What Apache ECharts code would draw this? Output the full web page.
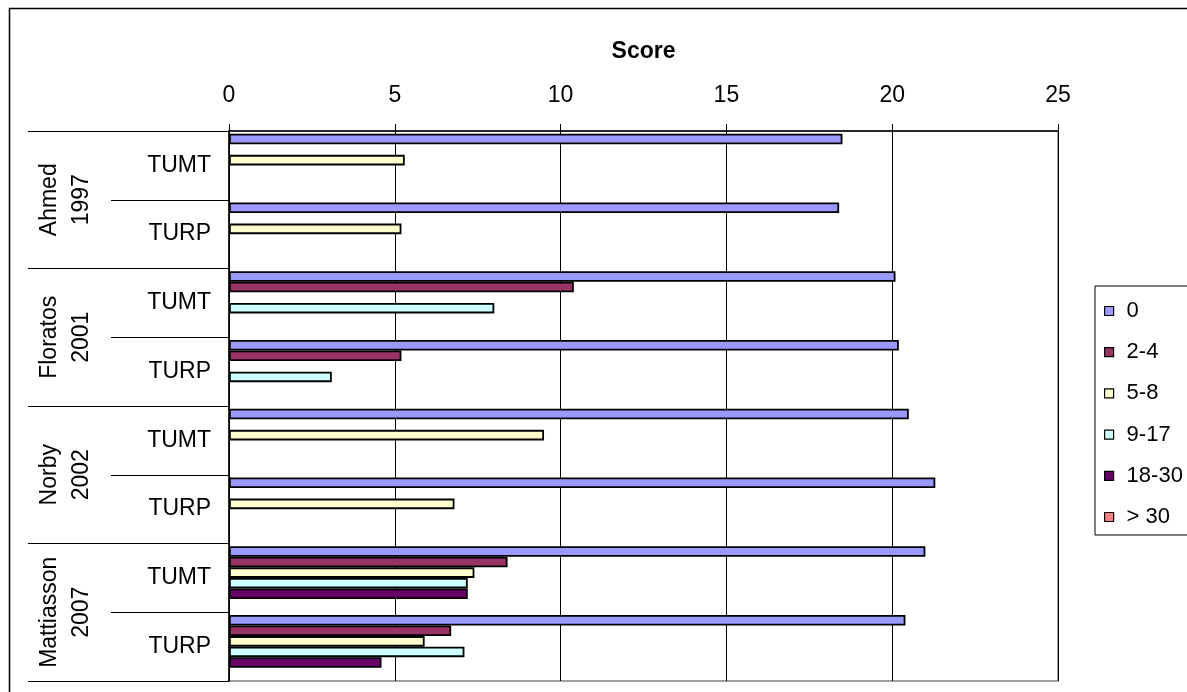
<!DOCTYPE html>
<html>
<head>
<meta charset="utf-8">
<script src="https://cdn.jsdelivr.net/npm/echarts@6/dist/echarts.min.js"></script>
<style>
html,body{margin:0;padding:0;background:#fff;}
#chart{width:1187px;height:692px;}
</style>
</head>
<body>
<div id="chart"></div>
<script>
const categories = ['TUMT','TURP','TUMT','TURP','TUMT','TURP','TUMT','TURP'];
const groups = ['Ahmed\n1997','Floratos\n2001','Norby\n2002','Mattiasson\n2007'];
const seriesNames = ['0','2-4','5-8','9-17','18-30','> 30'];
const s0 = [18.5, 18.4, 20.1, 20.2, 20.5, 21.3, 21.0, 20.4];
const s2_4 = [null, null, 10.4, 5.2, null, null, 8.4, 6.7];
const s5_8 = [5.3, 5.2, null, null, 9.5, 6.8, 7.4, 5.9];
const s9_17 = [null, null, 8.0, 3.1, null, null, 7.2, 7.1];
const s18_30 = [null, null, null, null, null, null, 7.2, 4.6];
const s30 = [null, null, null, null, null, null, null, null];
const xTicks = [0, 5, 10, 15, 20, 25];
const colors = ['#9999FF','#993366','#FFFFCC','#CCFFFF','#660066','#FF8080'];

const FONT = 'Liberation Sans, Arial, sans-serif';
const seriesData = [s0, s2_4, s5_8, s9_17, s18_30, s30];

const chart = echarts.init(document.getElementById('chart'));
chart.setOption({
  animation: false,
  backgroundColor: '#fff',
  textStyle: { fontFamily: FONT },
  graphic: [{
    type: 'rect', silent: true, z: 100,
    shape: { x: 9.5, y: 8.5, width: 1300, height: 800 },
    style: { fill: 'none', stroke: '#000', lineWidth: 1.5 }
  }],
  grid: {
    left: 229, right: 129, top: 131, bottom: 11,
    show: true, borderColor: '#808080', borderWidth: 1.5,
    containLabel: false, outerBoundsMode: 'none'
  },
  legend: {
    orient: 'vertical',
    left: 1095, top: 286,
    padding: [14, 10, 7, 9],
    borderColor: '#000', borderWidth: 1,
    backgroundColor: '#fff',
    icon: 'rect', itemWidth: 9, itemHeight: 9, itemGap: 19.2,
    itemStyle: { borderColor: '#000', borderWidth: 1.2 },
    textStyle: { fontFamily: FONT, fontSize: 22, color: '#000', lineHeight: 20, padding: [0, 0, 0, 8] },
    data: seriesNames
  },
  xAxis: {
    type: 'value', position: 'top',
    min: xTicks[0], max: xTicks[xTicks.length - 1], interval: 5,
    name: 'Score', nameLocation: 'middle', nameGap: 68,
    nameTextStyle: { fontFamily: FONT, fontSize: 23, fontWeight: 'bold', color: '#000' },
    axisLine: { show: true, lineStyle: { color: '#000', width: 1.5 } },
    axisTick: { show: true, length: 7, lineStyle: { color: '#000' } },
    axisLabel: { margin: 24, fontFamily: FONT, fontSize: 23, color: '#000' },
    splitLine: { show: true, lineStyle: { color: '#000', width: 1 } }
  },
  yAxis: [{
    type: 'category', inverse: true, data: categories, position: 'left',
    axisLine: { show: true, lineStyle: { color: '#000', width: 1.5 } },
    axisTick: { show: true, interval: 0, length: 118, alignWithLabel: false, lineStyle: { color: '#000', width: 1 } },
    axisLabel: { interval: 0, margin: 18, fontFamily: FONT, fontSize: 23, color: '#000' },
    splitLine: { show: false }
  }, {
    type: 'category', inverse: true, data: groups, position: 'left', offset: 0,
    axisLine: { show: false },
    axisTick: { show: true, interval: 0, length: 201, alignWithLabel: false, lineStyle: { color: '#000', width: 1 } },
    axisLabel: { interval: 0, rotate: 90, margin: 131, fontFamily: FONT, fontSize: 23, lineHeight: 32, color: '#000' },
    splitLine: { show: false }
  }],
  series: seriesNames.map((n, i) => ({
    name: n, type: 'bar', yAxisIndex: 0,
    data: seriesData[i],
    barGap: '0%', barCategoryGap: '8%',
    itemStyle: { color: colors[i], borderColor: '#000', borderWidth: 1.8 }
  }))
});
</script>
</body>
</html>
